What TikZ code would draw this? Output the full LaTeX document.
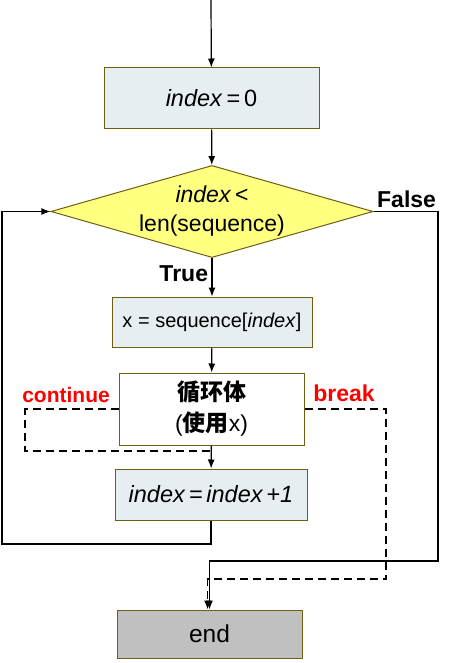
\documentclass[tikz,border=0pt]{standalone}
\usepackage{fontspec}
\setmainfont{Liberation Sans}
\newfontfamily\cjkfont{Noto Sans CJK SC}
\usetikzlibrary{shapes.geometric,arrows.meta}
\definecolor{boxBorder}{HTML}{6E5F14}
\definecolor{boxFill}{HTML}{E6EEF2}
\definecolor{condYellow}{HTML}{FFFF80}
\definecolor{endGray}{HTML}{C0C0C0}
\definecolor{jumpRed}{HTML}{FF0000}

\begin{document}
\begin{tikzpicture}[x=1pt,y=-1pt,
		every node/.style={font=\fontsize{23}{29}\selectfont},
		stmt/.style={draw=boxBorder,fill=boxFill,line width=1pt,inner sep=0pt},
		flow/.style={line width=1.2pt,-{Latex[length=9pt,width=7pt]}},
		jump/.style={line width=1.6pt,dash pattern=on 8pt off 5pt},
		tag/.style={font=\fontsize{23}{26}\selectfont\bfseries},
		jumptag/.style={font=\fontsize{21}{26}\selectfont\bfseries,color=jumpRed}]
	\useasboundingbox(0,0)rectangle(451,663);
	% boxes
	\node[stmt,minimum width=215pt,minimum height=61pt,font=\fontsize{23.5}{28}\selectfont](init)at(211.5,98.5)
		{\textit{index}\,=\,0};
	\node[draw=boxBorder,fill=condYellow,line width=1pt,diamond,aspect=3.5,inner sep=0pt,
		minimum width=320pt,minimum height=91pt,align=center](cond)at(212,211.5)
		{\textit{index}\,<\\len(sequence)};
	\node[stmt,minimum width=200pt,minimum height=50pt,font=\fontsize{20}{24}\selectfont](item)at(212,322)
		{x = sequence[\textit{index}]};
	\node[stmt,fill=white,minimum width=185pt,minimum height=72pt,align=center,
		font=\fontsize{23}{31}\selectfont](body)at(211.5,409)
		{{\cjkfont\bfseries 循环体}\\({\cjkfont\bfseries 使用}x)};
	\node[stmt,minimum width=192pt,minimum height=51pt,font=\fontsize{23.5}{28}\selectfont](step)at(211,494.5)
		{\textit{index\,=\,index\,+1}};
	\node[stmt,fill=endGray,minimum width=185pt,minimum height=48pt,font=\fontsize{24.5}{28}\selectfont](end)
		at(209.5,634){end};
	% labels
	\node[tag,anchor=south west](falseLbl)at(cond.east){False};
	\node[jumptag](contLbl)at(66,395){continue};
	\node[jumptag,font=\fontsize{23}{26}\selectfont\bfseries](brkLbl)at(344,393){break};
	% corners
	\coordinate(top)at(211,0);
	\coordinate(loopL)at(2,544);
	\coordinate(exitR)at(438,561);
	\coordinate(contL)at(25,451);
	\coordinate(brkR)at(386,579);
	% connectors
	\draw[flow](top)--(init);
	\draw[flow](init)--(cond);
	\draw[flow](cond)--node[tag,left,pos=0.4](trueLbl){True}(item);
	\draw[flow](item)--(body);
	\draw[flow](body)--(step);
	\draw[flow](step.south)|-(loopL)|-(cond.west);
	\draw[flow](cond.east)-|(exitR)-|(end.north);
	\draw[jump](body.west)-|(contL)--(contL-|body.south);
	\draw[jump,-{Latex[length=9pt,width=7pt]}](body.east)-|(brkR)-|([xshift=-2pt]end.north);
\end{tikzpicture}
\end{document}
